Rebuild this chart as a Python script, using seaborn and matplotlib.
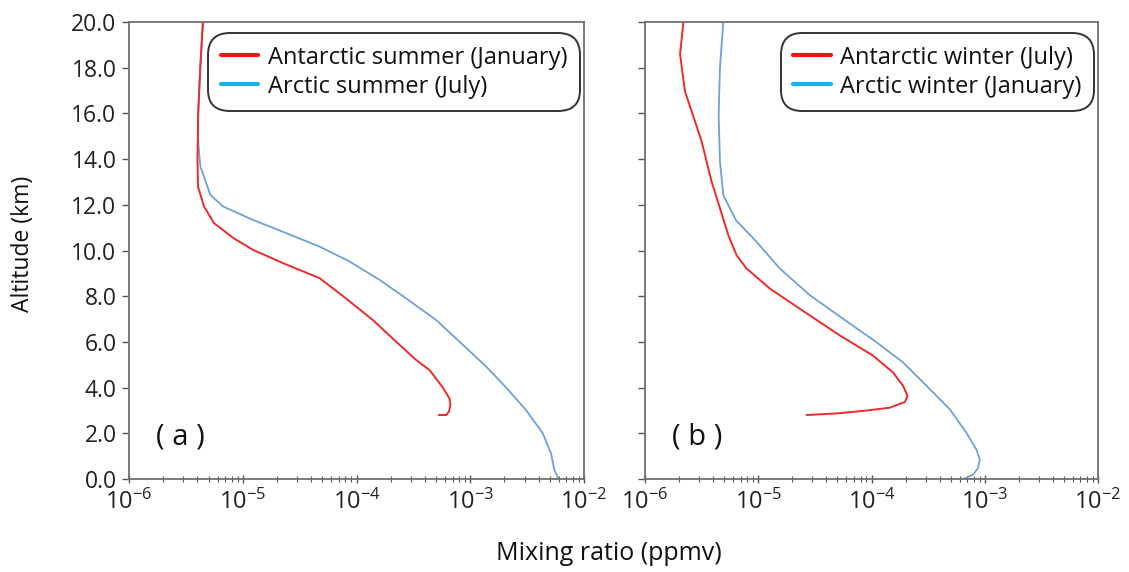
import numpy as np
import pandas as pd
import matplotlib
matplotlib.use("Agg")
import matplotlib.pyplot as plt
from matplotlib.lines import Line2D
from matplotlib.ticker import FixedLocator, LogLocator, NullFormatter
import seaborn as sns

# ---------------- data ----------------
# Panel (a): summer
a_red_alt = [20.0, 18.04, 16.0, 14.0, 12.8, 11.93, 11.2, 10.54, 10.03, 9.45, 8.79, 8.01,
             6.96, 6.01, 5.21, 4.77, 4.01, 3.53, 3.24, 2.95, 2.80, 2.80]
a_red_val = [4.47e-6, 4.24e-6, 4.06e-6, 4.0e-6, 4.04e-6, 4.56e-6, 5.58e-6, 8.3e-6, 1.23e-5,
             2.25e-5, 4.73e-5, 7.59e-5, 1.39e-4, 2.23e-4, 3.34e-4, 4.38e-4, 5.73e-4,
             6.56e-4, 6.7e-4, 6.5e-4, 6.14e-4, 5.28e-4]
a_blue_alt = [20.0, 18.0, 16.0, 14.85, 13.68, 12.44, 11.93, 11.34, 10.76, 10.17, 9.52, 8.72,
              8.01, 6.96, 6.01, 4.92, 4.01, 3.02, 2.01, 1.12, 0.39, 0.0]
a_blue_val = [4.45e-6, 4.22e-6, 4.05e-6, 4.04e-6, 4.24e-6, 5.18e-6, 6.69e-6, 1.23e-5, 2.41e-5,
              4.73e-5, 8.68e-5, 1.59e-4, 2.55e-4, 5.01e-4, 8.04e-4, 1.38e-3, 2.06e-3,
              3.09e-3, 4.33e-3, 5.13e-3, 5.49e-3, 5.98e-3]
# Panel (b): winter
b_red_alt = [19.97, 18.59, 16.98, 14.78, 13.02, 11.85, 10.67, 9.79, 9.21, 8.33, 7.45, 6.28,
             5.40, 4.66, 4.08, 3.64, 3.37, 3.12, 2.98, 2.87, 2.80]
b_red_val = [2.18e-6, 2.04e-6, 2.25e-6, 3.16e-6, 3.87e-6, 4.59e-6, 5.44e-6, 6.44e-6, 7.89e-6,
             1.27e-5, 2.33e-5, 5.26e-5, 1.03e-4, 1.55e-4, 1.9e-4, 2.08e-4, 1.97e-4, 1.45e-4,
             8.44e-5, 4.91e-5, 2.67e-5]
b_blue_alt = [19.97, 18.0, 15.95, 13.9, 12.43, 11.33, 10.38, 9.21, 8.04, 7.01, 5.98, 5.10,
              4.08, 3.05, 2.02, 1.29, 0.85, 0.48, 0.19, 0.0]
b_blue_val = [4.91e-6, 4.59e-6, 4.47e-6, 4.59e-6, 4.91e-6, 6.35e-6, 9.66e-6, 1.55e-5, 2.86e-5,
              5.62e-5, 1.11e-4, 1.9e-4, 3.06e-4, 4.91e-4, 6.89e-4, 8.44e-4, 9.04e-4, 8.73e-4,
              7.88e-4, 6.44e-4]

a_labels = ["Antarctic summer (January)", "Arctic summer (July)"]
b_labels = ["Antarctic winter (July)", "Arctic winter (January)"]
panel_tags = ["( a )", "( b )"]
x_ticks = [1e-6, 1e-5, 1e-4, 1e-3, 1e-2]
y_ticks = [0, 2, 4, 6, 8, 10, 12, 14, 16, 18, 20]

# ---------------- style ----------------
sns.set_theme(style="white")
FONT = "Open Sans"
plt.rcParams["font.family"] = [FONT, "DejaVu Sans"]
plt.rcParams["mathtext.fontset"] = "custom"
plt.rcParams["mathtext.rm"] = FONT
plt.rcParams["mathtext.it"] = FONT
plt.rcParams["mathtext.bf"] = FONT

RED_LINE = "#EE2A2A"
BLUE_LINE = "#6FA0D6"
RED_LEG = "#FF1010"
BLUE_LEG = "#14B4EA"

fig = plt.figure(figsize=(11.29, 5.72), dpi=100)
ax_a = fig.add_axes([129 / 1129, 1 - 479 / 572, 455 / 1129, 457 / 572])
ax_b = fig.add_axes([645 / 1129, 1 - 479 / 572, 453 / 1129, 457 / 572])

panels = [
    (ax_a, a_red_val, a_red_alt, a_blue_val, a_blue_alt, a_labels, panel_tags[0]),
    (ax_b, b_red_val, b_red_alt, b_blue_val, b_blue_alt, b_labels, panel_tags[1]),
]

for i, (ax, rv, ra, bv, ba, labels, tag) in enumerate(panels):
    dr = pd.DataFrame({"x": bv, "y": ba})
    sns.lineplot(data=dr, x="x", y="y", sort=False, estimator=None, ax=ax,
                 color=BLUE_LINE, lw=1.3)
    dd = pd.DataFrame({"x": rv, "y": ra})
    sns.lineplot(data=dd, x="x", y="y", sort=False, estimator=None, ax=ax,
                 color=RED_LINE, lw=1.4)
    ax.set_xscale("log")
    ax.set_xlim(1e-6, 1e-2)
    ax.set_ylim(0, 20)
    ax.xaxis.set_major_locator(FixedLocator(x_ticks))
    ax.xaxis.set_minor_locator(LogLocator(base=10, subs=np.arange(2, 10)))
    ax.xaxis.set_minor_formatter(NullFormatter())
    ax.set_xticklabels([r"$10^{%d}$" % int(np.log10(v)) for v in x_ticks])
    ax.set_yticks(y_ticks)
    if i == 0:
        ax.set_yticklabels([f"{v:.1f}" for v in y_ticks])
    else:
        ax.set_yticklabels([])
    ax.set_xlabel("")
    ax.set_ylabel("")
    for s in ax.spines.values():
        s.set_color("#707070")
        s.set_linewidth(1.3)
    ax.tick_params(axis="x", which="major", direction="inout", length=6, width=1.0,
                   color="#555555", labelsize=17, pad=5, labelcolor="#222222")
    ax.tick_params(axis="x", which="minor", direction="inout", length=4, width=0.8,
                   color="#555555")
    ax.tick_params(axis="y", which="major", direction="out", length=5, width=1.0,
                   color="#555555", labelsize=16.5, pad=4, labelcolor="#222222")
    ax.tick_params(left=True, bottom=True, which="both")
    ax.text(0.06, 0.06, tag, transform=ax.transAxes, fontsize=21, color="#111111",
            ha="left", va="bottom")
    handles = [Line2D([0], [0], color=RED_LEG, lw=3),
               Line2D([0], [0], color=BLUE_LEG, lw=3)]
    leg = ax.legend(handles, labels, loc="upper right", bbox_to_anchor=(0.98, 0.965),
                    fontsize=17, frameon=True, fancybox=True, edgecolor="black",
                    handlelength=1.6, handletextpad=0.4, borderpad=0.32,
                    labelspacing=0.22, borderaxespad=0.0)
    leg.get_frame().set_linewidth(1.4)
    leg.get_frame().set_boxstyle("round,pad=0.2,rounding_size=0.9")
    for t in leg.get_texts():
        t.set_color("#111111")

fig.text(23 / 1129, 1 - 244 / 572, "Altitude (km)", rotation=90, ha="center",
         va="center", fontsize=16.5, color="#111111")
fig.text(609 / 1129, 1 - 553 / 572, "Mixing ratio (ppmv)", ha="center", va="center",
         fontsize=18, color="#111111")

fig.savefig("out.png", dpi=100)
